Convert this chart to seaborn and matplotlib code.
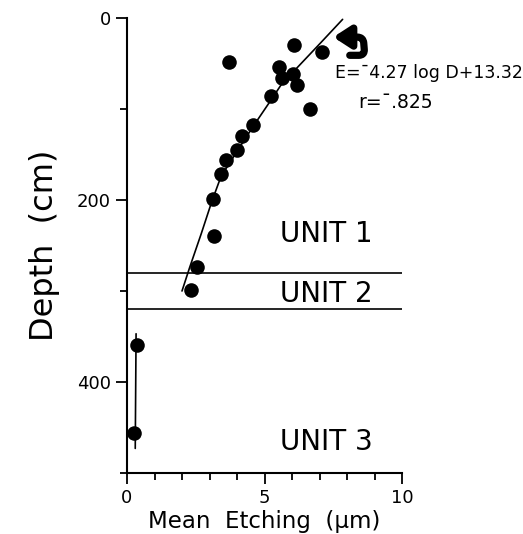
import matplotlib
matplotlib.use("Agg")
import matplotlib.pyplot as plt
import seaborn as sns
import pandas as pd

# unit 1 samples (mean etching in um, depth in cm)
unit1_etching = [6.08, 7.08, 3.71, 5.54, 6.05, 5.62, 6.19, 5.24, 6.65, 4.59,
                 4.19, 3.99, 3.59, 3.42, 3.12, 3.16, 2.53, 2.32]
unit1_depth = [30, 37, 48, 54, 61, 66, 74, 86, 100, 118,
               130, 145, 156, 171, 199, 240, 274, 299]

# unit 3 samples
unit3_etching = [0.38, 0.25]
unit3_depth = [359, 456]

# fitted curve through unit 1
fit1_etching = [2.0, 2.28, 2.7, 3.08, 3.42, 3.99, 4.59, 5.24, 5.68, 6.05, 7.02, 7.84]
fit1_depth = [300, 274, 237, 202, 174, 147, 119, 90, 70, 59, 28, 1.5]

# line through unit 3
fit3_etching = [0.33, 0.30]
fit3_depth = [347, 473]

unit_bounds = [280, 320]
unit_names = ["UNIT 1", "UNIT 2", "UNIT 3"]
unit_label_depth = [237, 303, 466]

pts = pd.DataFrame({"etching": unit1_etching + unit3_etching,
                    "depth": unit1_depth + unit3_depth})

sns.set_style("ticks")
plt.rcParams["font.family"] = ["DejaVu Sans"]
for k in ["text.color", "axes.labelcolor", "xtick.color", "ytick.color", "axes.edgecolor"]:
    plt.rcParams[k] = "black"

fig = plt.figure(figsize=(5.23, 5.34), dpi=100)
ax = fig.add_axes([127 / 523, 61 / 534, 275 / 523, 455 / 534])

sns.lineplot(x=fit1_etching, y=fit1_depth, sort=False, estimator=None,
             color="black", linewidth=1.2, ax=ax)
sns.lineplot(x=fit3_etching, y=fit3_depth, sort=False, estimator=None,
             color="black", linewidth=1.2, ax=ax)
sns.scatterplot(data=pts, x="etching", y="depth", color="black", s=110,
                edgecolor="black", linewidth=0, ax=ax, zorder=3)

for b in unit_bounds:
    ax.axhline(b, xmin=0, xmax=1, color="black", linewidth=1.2)

for name, d in zip(unit_names, unit_label_depth):
    ax.text(5.55, d, name, fontsize=20, ha="left", va="center")

ax.text(7.55, 60, "E=\u00af4.27 log D+13.32", fontsize=12.5, ha="left", va="center",
        clip_on=False)
ax.text(8.4, 93, "r=\u00af.825", fontsize=13.5, ha="left", va="center", clip_on=False)

# curved pointer next to the top of the fit
ax.annotate("", xy=(7.5, 21), xytext=(8.1, 41),
            arrowprops=dict(arrowstyle="-|>,head_length=1.0,head_width=0.65",
                            connectionstyle="arc,angleA=0,angleB=0,armA=15,armB=30,rad=6",
                            color="black", linewidth=5.2, mutation_scale=10,
                            shrinkA=0, shrinkB=0, capstyle="round"),
            annotation_clip=False)

ax.set_xlim(0, 10)
ax.set_ylim(500, 0)
ax.set_xticks([0, 5, 10])
ax.set_xticks(range(0, 11), minor=True)
ax.set_yticks([0, 200, 400])
ax.set_yticks([100, 300, 500], minor=True)
ax.tick_params(axis="both", which="major", length=8, width=1.3, labelsize=13, direction="out")
ax.tick_params(axis="both", which="minor", length=5, width=1.3, direction="out")
sns.despine(ax=ax)
for s in ["left", "bottom"]:
    ax.spines[s].set_linewidth(1.5)

ax.set_xlabel("Mean  Etching  (\u03bcm)", fontsize=16.5, labelpad=2)
ax.set_ylabel("Depth  (cm)", fontsize=23, labelpad=12)

fig.savefig("out.png", dpi=100)
